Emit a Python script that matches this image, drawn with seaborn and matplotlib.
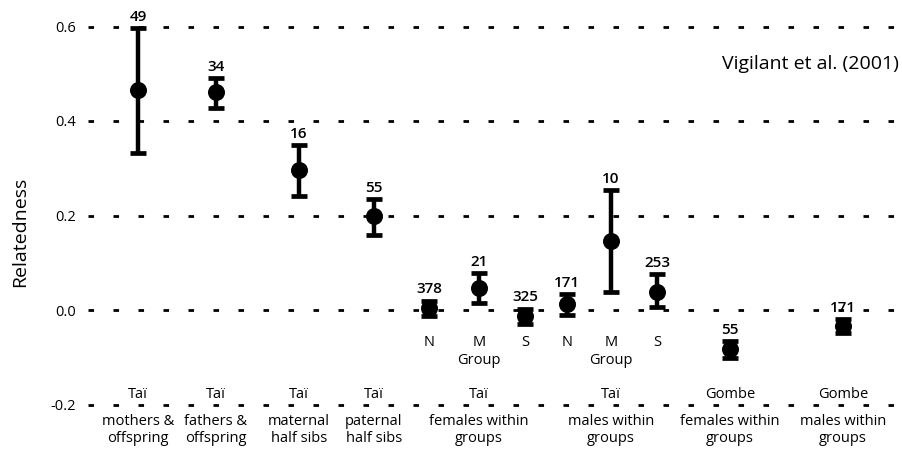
import matplotlib
matplotlib.use("Agg")
import matplotlib.pyplot as plt
import seaborn as sns
import pandas as pd

# ---- data ----
populations = ["Taï", "Taï", "Taï", "Taï", "Taï", "Taï", "Gombe", "Gombe"]
categories = ["mothers &\noffspring", "fathers &\noffspring", "maternal\nhalf sibs",
              "paternal\nhalf sibs", "females within\ngroups", "males within\ngroups",
              "females within\ngroups", "males within\ngroups"]
subgroups = ["", "", "", "", "N", "M", "S", "N", "M", "S", "", ""]
means = [0.466, 0.461, 0.296, 0.199, 0.005, 0.047, -0.013, 0.012, 0.146, 0.038, -0.083, -0.034]
upper = [0.597, 0.491, 0.349, 0.235, 0.020, 0.078, 0.003, 0.034, 0.254, 0.076, -0.065, -0.020]
lower = [0.332, 0.427, 0.241, 0.159, -0.012, 0.015, -0.029, -0.010, 0.038, 0.006, -0.101, -0.048]
n_pairs = [49, 34, 16, 55, 378, 21, 325, 171, 10, 253, 55, 171]
yticks = [-0.2, 0.0, 0.2, 0.4, 0.6]

# ---- layout (positions, not data) ----
point_x = [138, 216, 299, 374, 429, 479, 525, 567, 611, 657, 730, 843]
cat_x = [138, 216, 299, 374, 479, 611, 730, 843]

df = pd.DataFrame({"x": point_x, "mean": means, "upper": upper, "lower": lower,
                   "n": n_pairs, "sub": subgroups})

sns.set_theme(style="white")
plt.rcParams["font.family"] = ["Open Sans", "DejaVu Sans"]
plt.rcParams["lines.scale_dashes"] = False
plt.rcParams["text.color"] = "black"
plt.rcParams["ytick.color"] = "black"
plt.rcParams["axes.labelcolor"] = "black"

fig = plt.figure(figsize=(9.02, 4.65), dpi=100)
ax = fig.add_axes([88 / 902, 1 - 412 / 465, 1 - 88 / 902, 402 / 465])

def py(px):
    # convert a reference pixel row to a data value (for text layout only)
    return (310 - px) / 472.5

ax.set_xlim(88, 902)
ax.set_ylim(py(412), py(10))

# dashed grid
for t in yticks:
    ax.axhline(t, color="black", lw=2.0, linestyle=(0, (4.0, 14.0)), zorder=1)

# error bars
ax.errorbar(df["x"], df["mean"],
            yerr=[df["mean"] - df["lower"], df["upper"] - df["mean"]],
            fmt="none", ecolor="black", elinewidth=3.2, capsize=5.5, capthick=3.4, zorder=3)
sns.scatterplot(data=df, x="x", y="mean", ax=ax, s=150, color="black",
                edgecolor="black", linewidth=0, zorder=4, legend=False)

# n labels
for x, u, n in zip(df["x"], df["upper"], df["n"]):
    ax.annotate(str(n), (x, u), xytext=(0, 3), textcoords="offset points",
                ha="center", va="bottom", fontsize=11, fontweight="semibold", color="black")

# subgroup labels
for x, s in zip(df["x"], df["sub"]):
    if s:
        ax.text(x, py(342), s, ha="center", va="center", fontsize=10.5, clip_on=False)
        if s == "M":
            ax.text(x, py(360), "Group", ha="center", va="center", fontsize=10.5, clip_on=False)

# population and category labels
for x, p, c in zip(cat_x, populations, categories):
    ax.text(x, py(395), p, ha="center", va="center", fontsize=10.5, clip_on=False)
    ax.text(x, py(414), c, ha="center", va="top", fontsize=10.5, clip_on=False,
            linespacing=1.15)

ax.set_yticks(yticks)
ax.set_yticklabels([f"{t:.1f}" for t in yticks], fontsize=10.5, color="black")
ax.tick_params(axis="y", length=0, pad=9)
ax.set_xticks([])
ax.set_xlabel("")
ax.set_ylabel("")
for sp in ax.spines.values():
    sp.set_visible(False)

fig.text(20 / 902, 1 - 232 / 465, "Relatedness", rotation=90, ha="center", va="center",
         fontsize=14, color="black")
ax.text(899, py(64), "Vigilant et al. (2001)", ha="right", va="center", fontsize=14)

fig.savefig("out.png", dpi=100)
